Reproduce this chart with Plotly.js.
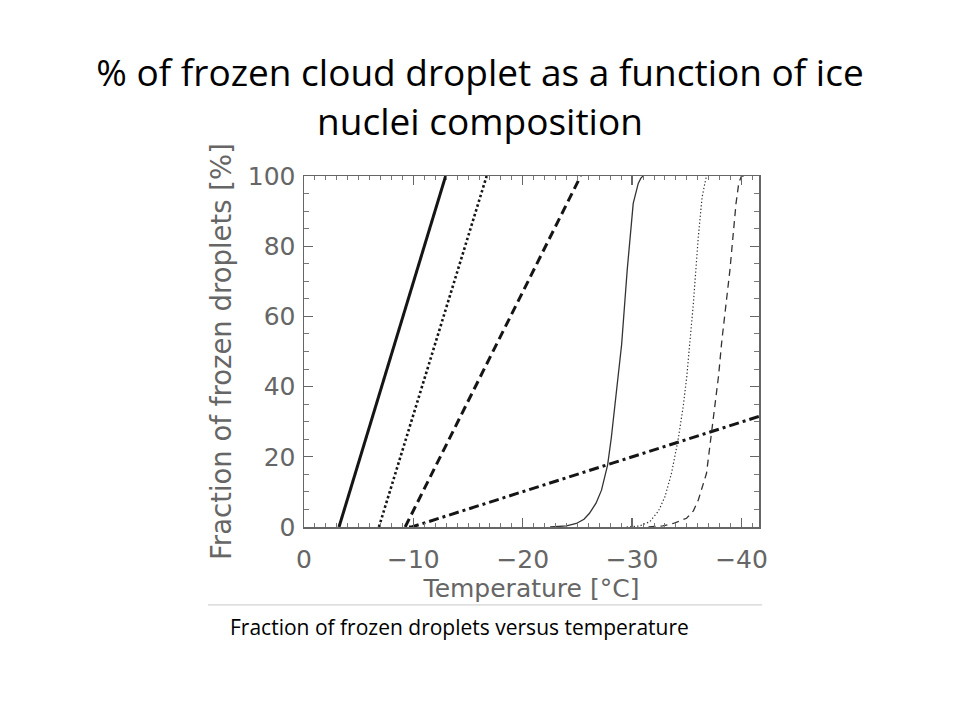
<!DOCTYPE html>
<html>
<head>
<meta charset="utf-8">
<script src="https://cdn.plot.ly/plotly-3.0.1.min.js"></script>
<style>html,body{margin:0;padding:0;background:#fff;}#chart{width:960px;height:720px;}</style>
</head>
<body>
<div id="chart"></div>
<script>
// Temperature in °C (x) and fraction of frozen droplets in % (y)
const thickSolidT = [-3.2, -12.95];
const thickSolidF = [0, 100];
const thickDotT = [-6.85, -16.7];
const thickDotF = [0, 100];
const thickDashT = [-9.25, -25.3];
const thickDashF = [0, 100];
const dashDotT = [-9.6, -9.85, -41.6];
const dashDotF = [0, 0, 31.5];
const thinSolidT = [-22.5, -24.0, -24.9, -25.6, -26.1, -26.7, -27.2, -27.76, -28.1, -28.43, -28.75, -29.04, -29.55, -30.1, -30.56, -30.8, -31.0];
const thinSolidF = [0, 0.3, 1.0, 2.2, 3.9, 6.8, 10.5, 17.7, 25.5, 34.3, 43, 52, 73.2, 92.2, 97.9, 99.4, 100];
const thinDotT = [-29.5, -30.7, -31.6, -32.4, -33.0, -33.6, -34.2, -34.67, -35.0, -35.28, -35.6, -36.05, -36.4, -36.65, -36.8];
const thinDotF = [0, 0.3, 1.5, 4.5, 8.6, 15.3, 24.8, 34.3, 43, 52, 63.7, 82.7, 94, 97.9, 100];
const thinDashT = [-31.5, -32.8, -33.76, -34.98, -35.6, -36.05, -36.8, -37.17, -37.57, -37.9, -38.2, -38.94, -39.5, -39.75, -40.0, -40.3];
const thinDashF = [0, 0.3, 1.0, 2.5, 4.6, 7.7, 15.3, 24.8, 34.3, 43, 53, 73.2, 92.2, 98, 100, 100];

const xTicks = [0, -10, -20, -30, -40];
const yTicks = [0, 20, 40, 60, 80, 100];

const titleText = '% of frozen cloud droplet as a function of ice<br>nuclei composition';
const xTitle = 'Temperature [°C]';
const yTitle = 'Fraction of frozen droplets [%]';
const caption = 'Fraction of frozen droplets versus temperature';

function tr(x, y, w, dash, color) {
  return {x: x, y: y, type: 'scatter', mode: 'lines', line: {width: w, dash: dash, color: color}, hoverinfo: 'skip'};
}
const data = [
  tr(thickSolidT, thickSolidF, 3, 'solid', '#151515'),
  tr(thickDotT, thickDotF, 2.6, '2.5px,2.5px', '#151515'),
  tr(thickDashT, thickDashF, 3, '9px,5px', '#151515'),
  tr(dashDotT, dashDotF, 3, '10px,4px,3px,4px', '#151515'),
  tr(thinSolidT, thinSolidF, 1.3, 'solid', '#333'),
  tr(thinDotT, thinDotF, 1.2, '1.3px,2.2px', '#333'),
  tr(thinDashT, thinDashF, 1.3, '7px,5px', '#333')
];

const tickFont = {family: 'DejaVu Sans', size: 25, color: '#666'};
const layout = {
  width: 960, height: 720,
  margin: {l: 304, r: 201, t: 176, b: 193},
  paper_bgcolor: '#fff', plot_bgcolor: '#fff',
  showlegend: false,
  title: {text: titleText, x: 0.5, xanchor: 'center', yref: 'container', y: 0.88, yanchor: 'middle',
          font: {family: 'Open Sans', size: 37, color: '#000'}},
  xaxis: {
    range: [0, -41.6], tickvals: xTicks, ticks: 'inside', ticklen: 9, tickwidth: 1.3, tickcolor: '#666',
    minor: {dtick: 1, tick0: 0, ticks: 'inside', ticklen: 4, tickwidth: 1, tickcolor: '#777'},
    showline: true, linecolor: '#666', linewidth: 1.5, mirror: 'ticks',
    showgrid: false, zeroline: false, tickfont: tickFont, ticklabelstandoff: 9,
    title: {text: xTitle, font: {family: 'DejaVu Sans', size: 25, color: '#666'}, standoff: 6}
  },
  yaxis: {
    range: [0, 100], tickvals: yTicks, ticks: 'inside', ticklen: 9, tickwidth: 1.3, tickcolor: '#666',
    minor: {dtick: 5, tick0: 0, ticks: 'inside', ticklen: 5, tickwidth: 1, tickcolor: '#777'},
    showline: true, linecolor: '#666', linewidth: 1.5, mirror: 'ticks',
    showgrid: false, zeroline: false, tickfont: tickFont, ticklabelstandoff: 2,
    title: {text: yTitle, font: {family: 'DejaVu Sans', size: 27.5, color: '#666'}, standoff: 8}
  },
  shapes: [{type: 'line', xref: 'paper', yref: 'paper', x0: -0.211, x1: 1.007, y0: -0.222, y1: -0.222,
            line: {color: '#c8c8c8', width: 1}}],
  annotations: [{text: caption, xref: 'paper', yref: 'paper', x: -0.167, y: -0.285, xanchor: 'left', yanchor: 'middle',
                 showarrow: false, font: {family: 'Open Sans', size: 21, color: '#000'}}]
};
Plotly.newPlot('chart', data, layout, {displayModeBar: false, staticPlot: true});
</script>
</body>
</html>
